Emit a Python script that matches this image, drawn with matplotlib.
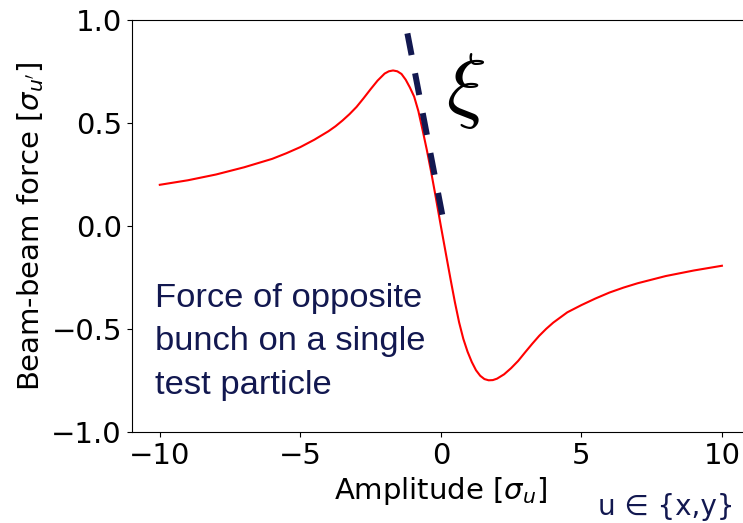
import matplotlib
matplotlib.use("Agg")
import matplotlib.pyplot as plt

# Curve values (amplitude in sigma_u, force in sigma_u')
amplitude = [-10.0, -9.0, -8.0, -7.0, -6.0, -5.5, -5.0, -4.5, -4.0, -3.75,
             -3.5, -3.25, -3.0, -2.75, -2.5, -2.25, -2.0, -1.85, -1.7, -1.55,
             -1.4, -1.25, -1.1, -0.95, -0.8, -0.65, -0.5, -0.35, -0.2, -0.1,
             0.0, 0.1, 0.2, 0.35, 0.5, 0.65, 0.8, 0.95, 1.1, 1.25,
             1.4, 1.55, 1.7, 1.85, 2.0, 2.25, 2.5, 2.75, 3.0, 3.25,
             3.5, 3.75, 4.0, 4.5, 5.0, 5.5, 6.0, 6.5, 7.0, 8.0,
             9.0, 10.0]
force = [0.200, 0.222, 0.250, 0.285, 0.326, 0.353, 0.383, 0.419, 0.460, 0.484,
         0.512, 0.543, 0.578, 0.620, 0.664, 0.706, 0.740, 0.751, 0.755, 0.751,
         0.738, 0.710, 0.672, 0.628, 0.558, 0.466, 0.370, 0.266, 0.154, 0.077,
         0.0, -0.075, -0.150, -0.262, -0.370, -0.468, -0.548, -0.610, -0.660, -0.700,
         -0.727, -0.743, -0.749, -0.748, -0.741, -0.720, -0.690, -0.655, -0.613, -0.572,
         -0.533, -0.499, -0.469, -0.419, -0.384, -0.352, -0.323, -0.299, -0.278, -0.243,
         -0.216, -0.193]

# Tangent (slope xi) marker endpoints
tangent_x = [-1.19, 0.086]
tangent_y = [0.935, 0.029]

xticks = [-10, -5, 0, 5, 10]
yticks = [-1.0, -0.5, 0.0, 0.5, 1.0]

navy = "#121850"

W, H = 743, 523
fig = plt.figure(figsize=(W / 100, H / 100), dpi=100)
left, right, top, bottom = 131.7, 750.0, 20.0, 432.0
ax = fig.add_axes([left / W, 1 - bottom / H, (right - left) / W, (bottom - top) / H])

ax.plot(amplitude, force, color="red", lw=1.5)
ax.plot(tangent_x, tangent_y, color=navy, lw=4.3, linestyle=(0, (3.7, 3.1)),
        solid_capstyle="butt", dash_capstyle="butt")

ax.set_xlim(-11, 11)
ax.set_ylim(-1.0, 1.0)
ax.set_xticks(xticks)
ax.set_yticks(yticks)
ax.tick_params(labelsize=21)
ax.set_xlabel(r"Amplitude [$\sigma_u$]", fontsize=21)
ax.set_ylabel(r"Beam-beam force [$\sigma_{u'}$]", fontsize=21)

ax.text(0.87, 0.66, r"$\xi$", fontsize=60, ha="center", va="center",
        math_fontfamily="cm", color="black")

ax.text(-10.16, -0.275, "Force of opposite\nbunch on a single\ntest particle",
        fontsize=24.8, family="Liberation Sans", color=navy, ha="left", va="top",
        linespacing=1.53)

fig.text(735 / W, 1 - 507 / H, "u ∈ {x,y}", fontsize=20, color=navy,
         ha="right", va="center", family="DejaVu Sans")

fig.savefig("out.png", dpi=100)
